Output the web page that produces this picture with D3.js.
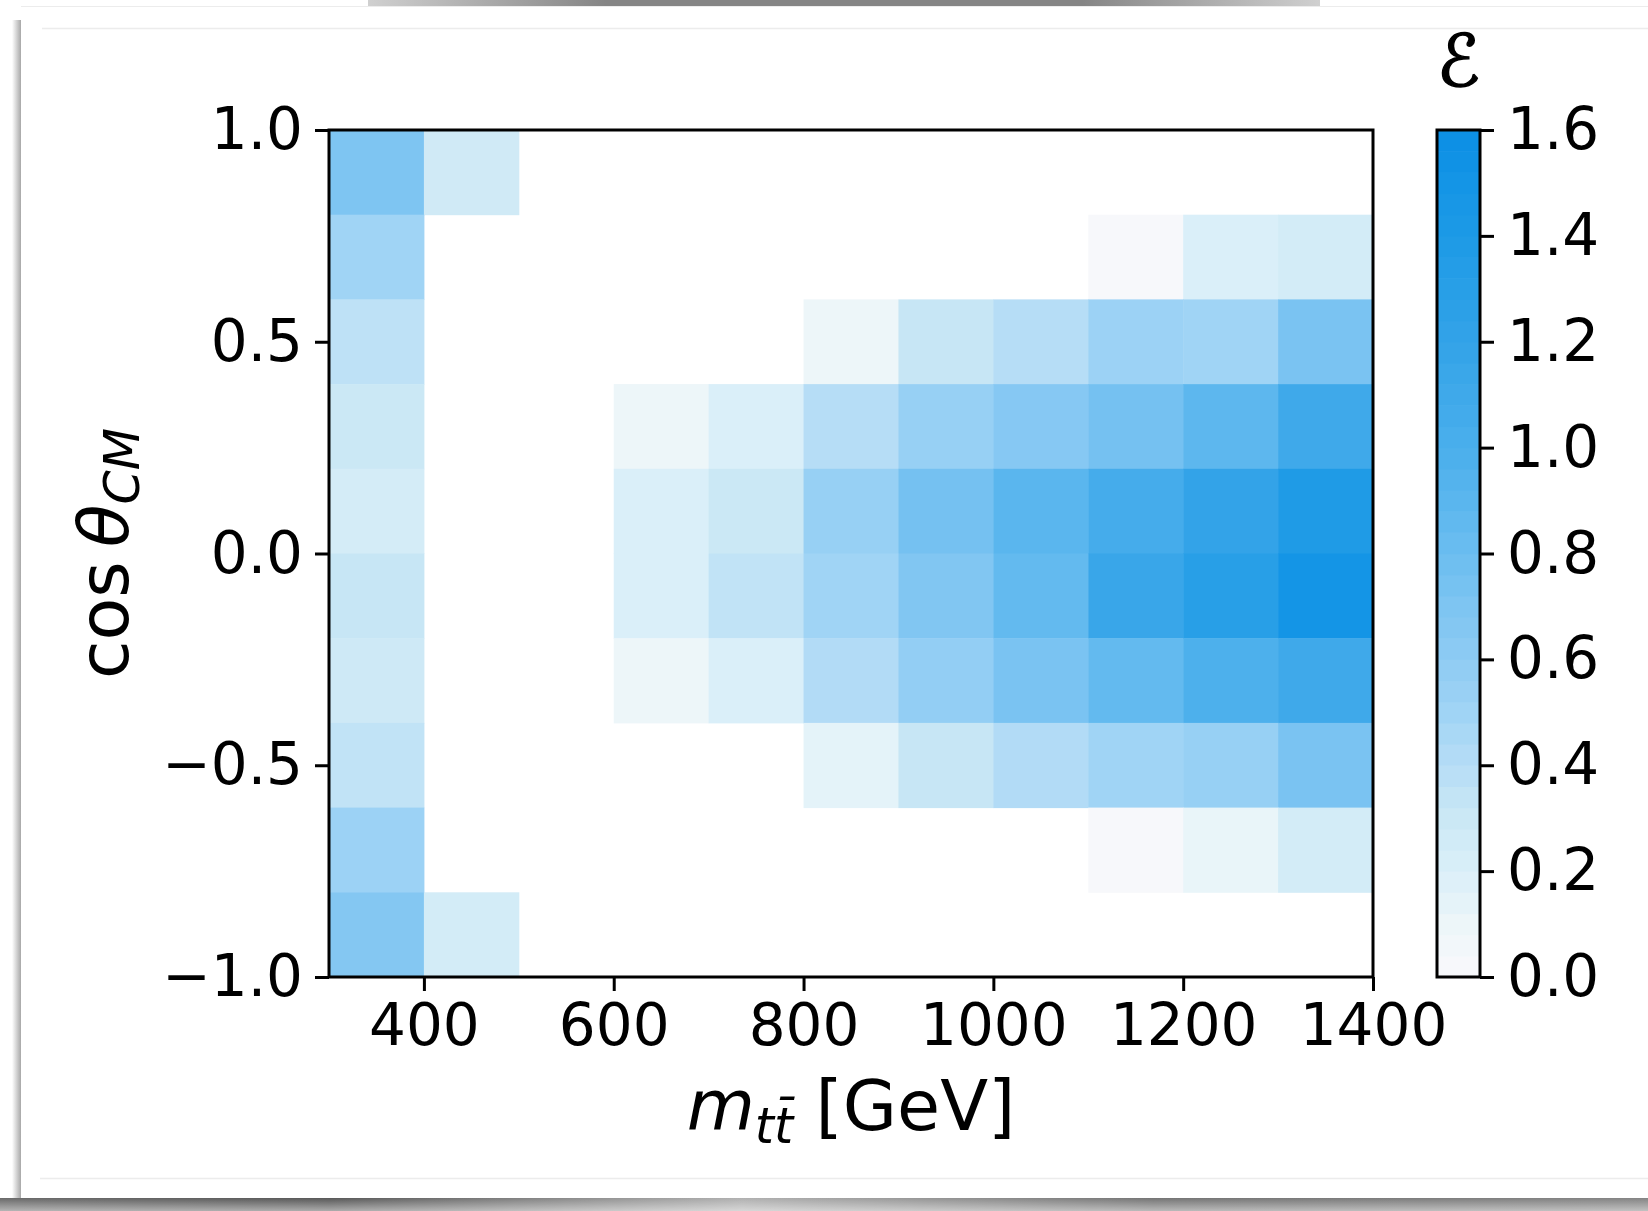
<!DOCTYPE html>
<html>
<head>
<meta charset="utf-8">
<script src="https://cdn.jsdelivr.net/npm/d3@7"></script>
<style>
  html, body { margin: 0; padding: 0; background: #ffffff; }
  svg { display: block; }
  text { font-family: "DejaVu Sans", sans-serif; fill: #000; }
</style>
</head>
<body>
<svg id="chart" width="1648" height="1211"></svg>
<script>
// ---------------- DATA ----------------
// mass bin edges [GeV] and cos(theta_CM) bin edges
const massEdges = [300, 400, 500, 600, 700, 800, 900, 1000, 1100, 1200, 1300, 1400];
const cosEdges  = [1.0, 0.8, 0.6, 0.4, 0.2, 0.0, -0.2, -0.4, -0.6, -0.8, -1.0];

// one array per cos(theta) row, top (0.8..1.0) to bottom (-1.0..-0.8); null = empty bin
const rowCos08to10   = [0.70, 0.27, null, null, null, null, null, null, null, null, null];
const rowCos06to08   = [0.50, null, null, null, null, null, null, null, 0.02, 0.20, 0.25];
const rowCos04to06   = [0.36, null, null, null, null, 0.10, 0.32, 0.40, 0.52, 0.50, 0.72];
const rowCos02to04   = [0.30, null, null, 0.10, 0.20, 0.40, 0.55, 0.65, 0.75, 0.88, 1.10];
const rowCos00to02   = [0.24, null, null, 0.20, 0.30, 0.55, 0.75, 0.90, 1.05, 1.20, 1.38];
const rowCosM02to00  = [0.32, null, null, 0.20, 0.35, 0.50, 0.68, 0.85, 1.15, 1.30, 1.50];
const rowCosM04toM02 = [0.28, null, null, 0.10, 0.20, 0.42, 0.57, 0.72, 0.85, 0.98, 1.10];
const rowCosM06toM04 = [0.35, null, null, null, null, 0.15, 0.32, 0.42, 0.50, 0.55, 0.72];
const rowCosM08toM06 = [0.52, null, null, null, null, null, null, null, 0.02, 0.12, 0.25];
const rowCosM10toM08 = [0.66, 0.25, null, null, null, null, null, null, null, null, null];
const rows = [rowCos08to10, rowCos06to08, rowCos04to06, rowCos02to04, rowCos00to02,
              rowCosM02to00, rowCosM04toM02, rowCosM06toM04, rowCosM08toM06, rowCosM10toM08];

const xTicks = [400, 600, 800, 1000, 1200, 1400];
const yTicks = [-1.0, -0.5, 0.0, 0.5, 1.0];
const cbarTicks = [0.0, 0.2, 0.4, 0.6, 0.8, 1.0, 1.2, 1.4, 1.6];

const cmapStops  = [0.0, 0.1, 0.2, 0.3, 0.4, 0.5, 0.6, 0.7, 0.8, 0.9, 1.0, 1.1, 1.2, 1.4, 1.6];
const cmapColors = ["#f9f9fb", "#edf6f9", "#daeff9", "#cbe8f5", "#b6ddf6", "#a0d4f5", "#8ecbf3",
                    "#7ec5f2", "#6bbdf0", "#5ab6ee", "#4aafec", "#3fa9ea", "#33a3e8", "#1d9ae6", "#0b8fe5"];

const xLabelMain = "m", xLabelSub = "tt\u0304", xLabelUnit = " [GeV]";
const yLabelMain = "cos\u2009", yLabelTheta = "\u03B8", yLabelSub = "CM";
const cbarLabel = "\u2130";

// ---------------- LAYOUT ----------------
const svg = d3.select("#chart");
const W = 1648, H = 1211;
const plot = { left: 329, right: 1373, top: 130, bottom: 977 };
const cbar = { left: 1437, right: 1480, top: 130, bottom: 977 };

// ---------------- DECORATIVE FRAME (card with shadows) ----------------
const defs = svg.append("defs");
const gTop = defs.append("linearGradient").attr("id", "gTop").attr("x1", 0).attr("x2", 1).attr("y1", 0).attr("y2", 0);
gTop.append("stop").attr("offset", "0").attr("stop-color", "#d0d0d0");
gTop.append("stop").attr("offset", "0.25").attr("stop-color", "#858585");
gTop.append("stop").attr("offset", "0.75").attr("stop-color", "#858585");
gTop.append("stop").attr("offset", "1").attr("stop-color", "#d0d0d0");
const gBot = defs.append("linearGradient").attr("id", "gBot").attr("x1", 0).attr("x2", 1).attr("y1", 0).attr("y2", 0);
gBot.append("stop").attr("offset", "0").attr("stop-color", "#6a6a6a");
gBot.append("stop").attr("offset", "0.2").attr("stop-color", "#585858");
gBot.append("stop").attr("offset", "0.45").attr("stop-color", "#b0b0b0");
gBot.append("stop").attr("offset", "0.7").attr("stop-color", "#747474");
gBot.append("stop").attr("offset", "1").attr("stop-color", "#848484");
const gBotV = defs.append("linearGradient").attr("id", "gBotV").attr("x1", 0).attr("x2", 0).attr("y1", 0).attr("y2", 1);
gBotV.append("stop").attr("offset", "0").attr("stop-color", "#ffffff").attr("stop-opacity", 0.0);
gBotV.append("stop").attr("offset", "1").attr("stop-color", "#ffffff").attr("stop-opacity", 0.5);
const gLeft = defs.append("linearGradient").attr("id", "gLeft").attr("x1", 0).attr("x2", 1).attr("y1", 0).attr("y2", 0);
gLeft.append("stop").attr("offset", "0").attr("stop-color", "#ffffff");
gLeft.append("stop").attr("offset", "1").attr("stop-color", "#a8a8a8");

svg.append("rect").attr("x", 0).attr("y", 0).attr("width", W).attr("height", H).attr("fill", "#ffffff");
svg.append("rect").attr("x", 368).attr("y", 0).attr("width", 952).attr("height", 6).attr("fill", "url(#gTop)");
svg.append("rect").attr("x", 12).attr("y", 20).attr("width", 9).attr("height", 1180).attr("fill", "url(#gLeft)");
svg.append("rect").attr("x", 0).attr("y", 1198).attr("width", W).attr("height", 13).attr("fill", "url(#gBot)");
svg.append("rect").attr("x", 0).attr("y", 1198).attr("width", W).attr("height", 13).attr("fill", "url(#gBotV)");
svg.append("rect").attr("x", 21).attr("y", 6).attr("width", W - 21).attr("height", 1192).attr("fill", "#ffffff");
svg.append("line").attr("x1", 21).attr("x2", W).attr("y1", 6.5).attr("y2", 6.5).attr("stroke", "#ececec").attr("stroke-width", 1);
svg.append("line").attr("x1", 42).attr("x2", W).attr("y1", 28.5).attr("y2", 28.5).attr("stroke", "#ececec").attr("stroke-width", 1.5);
svg.append("line").attr("x1", 40).attr("x2", W).attr("y1", 1178.5).attr("y2", 1178.5).attr("stroke", "#ececec").attr("stroke-width", 1.5);

// ---------------- SCALES ----------------
const x = d3.scaleLinear().domain([300, 1400]).range([plot.left, plot.right]);
const y = d3.scaleLinear().domain([-1, 1]).range([plot.bottom, plot.top]);
const color = d3.scaleLinear().domain(cmapStops).range(cmapColors).interpolate(d3.interpolateRgb).clamp(true);
const yc = d3.scaleLinear().domain([0, 1.6]).range([cbar.bottom, cbar.top]);

// ---------------- HEATMAP CELLS ----------------
const cells = [];
rows.forEach((row, ri) => {
  row.forEach((v, ci) => {
    if (v === null) return;
    cells.push({ x0: massEdges[ci], x1: massEdges[ci + 1], yTop: cosEdges[ri], yBot: cosEdges[ri + 1], v });
  });
});
svg.append("g").selectAll("rect").data(cells).join("rect")
  .attr("x", d => x(d.x0))
  .attr("y", d => y(d.yTop))
  .attr("width", d => x(d.x1) - x(d.x0) + 0.5)
  .attr("height", d => y(d.yBot) - y(d.yTop) + 0.5)
  .attr("fill", d => color(d.v));

// ---------------- AXES ----------------
const tickW = 3, tickLen = 14, fontTick = 58;
const xAxis = d3.axisBottom(x).tickValues(xTicks).tickSize(tickLen).tickPadding(13).tickFormat(d3.format("d"));
const gx = svg.append("g").attr("transform", `translate(0,${plot.bottom})`).call(xAxis);
const yAxis = d3.axisLeft(y).tickValues(yTicks).tickSize(tickLen).tickPadding(12)
  .tickFormat(d => d3.format(".1f")(d).replace("-", "\u2212"));
const gy = svg.append("g").attr("transform", `translate(${plot.left},0)`).call(yAxis);
[gx, gy].forEach(g => {
  g.select(".domain").remove();
  g.selectAll(".tick line").attr("stroke", "#000").attr("stroke-width", tickW);
  g.selectAll(".tick text").attr("font-size", fontTick).attr("font-family", "DejaVu Sans").attr("fill", "#000");
});
gx.selectAll(".tick text").attr("dy", "0.71em");

// frame
svg.append("rect").attr("x", plot.left).attr("y", plot.top)
  .attr("width", plot.right - plot.left).attr("height", plot.bottom - plot.top)
  .attr("fill", "none").attr("stroke", "#000").attr("stroke-width", 3);

// ---------------- AXIS LABELS ----------------
const xl = svg.append("text").attr("x", (plot.left + plot.right) / 2).attr("y", 1130)
  .attr("text-anchor", "middle").attr("font-size", 70);
xl.append("tspan").attr("font-style", "italic").text(xLabelMain);
xl.append("tspan").attr("font-style", "italic").attr("font-size", 49).attr("dy", 13).text(xLabelSub);
xl.append("tspan").attr("dy", -13).text(xLabelUnit);

const yl = svg.append("text").attr("transform", `translate(128,${(plot.top + plot.bottom) / 2}) rotate(-90)`)
  .attr("text-anchor", "middle").attr("font-size", 70);
yl.append("tspan").text(yLabelMain);
yl.append("tspan").attr("font-style", "italic").text(yLabelTheta);
yl.append("tspan").attr("font-style", "italic").attr("font-size", 49).attr("dy", 11).text(yLabelSub);

// ---------------- COLORBAR ----------------
const nSteps = 40;
const stepVals = d3.range(nSteps).map(i => 1.6 * i / nSteps);
svg.append("g").selectAll("rect").data(stepVals).join("rect")
  .attr("x", cbar.left)
  .attr("y", d => yc(d + 1.6 / nSteps))
  .attr("width", cbar.right - cbar.left)
  .attr("height", d => yc(d) - yc(d + 1.6 / nSteps) + 0.6)
  .attr("fill", d => color(d + 0.8 / nSteps));
svg.append("rect").attr("x", cbar.left).attr("y", cbar.top)
  .attr("width", cbar.right - cbar.left).attr("height", cbar.bottom - cbar.top)
  .attr("fill", "none").attr("stroke", "#000").attr("stroke-width", 3);
const cAxis = d3.axisRight(yc).tickValues(cbarTicks).tickSize(tickLen).tickPadding(13).tickFormat(d3.format(".1f"));
const gc = svg.append("g").attr("transform", `translate(${cbar.right},0)`).call(cAxis);
gc.select(".domain").remove();
gc.selectAll(".tick line").attr("stroke", "#000").attr("stroke-width", tickW);
gc.selectAll(".tick text").attr("font-size", fontTick).attr("font-family", "DejaVu Sans").attr("fill", "#000");

svg.append("text").attr("x", (cbar.left + cbar.right) / 2).attr("y", 86)
  .attr("text-anchor", "middle").attr("font-size", 72)
  .attr("font-family", "DejaVu Serif").attr("font-style", "italic")
  .attr("stroke", "#000").attr("stroke-width", 1.4).text(cbarLabel);
</script>
</body>
</html>
